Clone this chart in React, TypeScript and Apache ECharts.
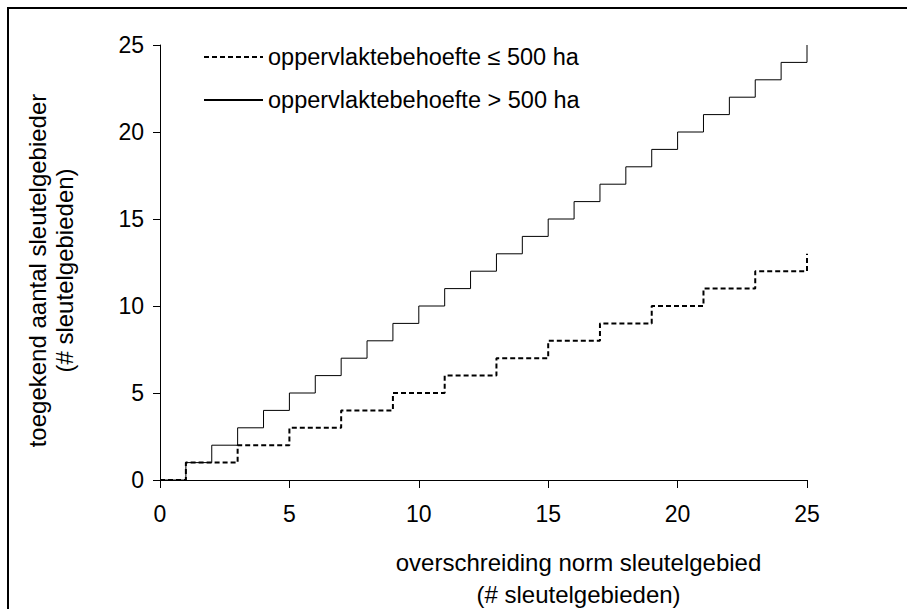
import React, { useEffect, useRef } from "react";
import * as echarts from "echarts";

const xTicks = [0, 5, 10, 15, 20, 25];
const yTicks = [0, 5, 10, 15, 20, 25];

const largeName = "oppervlaktebehoefte > 500 ha";
const largeX = [0, 1, 2, 3, 4, 5, 6, 7, 8, 9, 10, 11, 12, 13, 14, 15, 16, 17, 18, 19, 20, 21, 22, 23, 24, 25];
const largeY = [0, 1, 2, 3, 4, 5, 6, 7, 8, 9, 10, 11, 12, 13, 14, 15, 16, 17, 18, 19, 20, 21, 22, 23, 24, 25];

const smallName = "oppervlaktebehoefte \u2264 500 ha";
const smallX = [0, 1, 3, 5, 7, 9, 11, 13, 15, 17, 19, 21, 23, 25];
const smallY = [0, 1, 2, 3, 4, 5, 6, 7, 8, 9, 10, 11, 12, 13];

const xTitle = "overschreiding norm sleutelgebied\n(# sleutelgebieden)";
const yTitle = "toegekend aantal sleutelgebieder\n(# sleutelgebieden)";

const FONT = "'Liberation Sans', Arial, sans-serif";

export default function App() {
  const ref = useRef<HTMLDivElement>(null);
  useEffect(() => {
    if (!ref.current) return;
    const chart = echarts.init(ref.current, undefined, { renderer: "svg" });
    const pairs = (xs: number[], ys: number[]) => xs.map((x, i) => [x, ys[i]]);
    chart.setOption({
      animation: false,
      backgroundColor: "#fff",
      textStyle: { fontFamily: FONT, color: "#000" },
      grid: { left: 160, right: 100, top: 45, bottom: 129, containLabel: false, outerBoundsMode: "none" },
      legend: {
        left: 203,
        top: 45,
        orient: "vertical",
        padding: 0,
        itemWidth: 59,
        itemHeight: 20,
        itemGap: 19,
        data: [smallName, largeName],
        itemStyle: { opacity: 0 },
        textStyle: { fontSize: 23.5, lineHeight: 23, color: "#000", fontFamily: FONT },
      },
      xAxis: {
        type: "value",
        min: xTicks[0],
        max: xTicks[xTicks.length - 1],
        interval: 5,
        splitLine: { show: false },
        axisLine: { show: true, onZero: false, lineStyle: { color: "#000", width: 1 } },
        axisTick: { show: true, length: 8, lineStyle: { color: "#000" } },
        axisLabel: { fontSize: 23, color: "#000", margin: 22, fontFamily: FONT },
        name: xTitle,
        nameLocation: "middle",
        nameGap: 66,
        nameTextStyle: { fontSize: 24, lineHeight: 32, color: "#000", fontFamily: FONT, padding: [0, 0, 0, 190] },
      },
      yAxis: {
        type: "value",
        min: yTicks[0],
        max: yTicks[yTicks.length - 1],
        interval: 5,
        splitLine: { show: false },
        axisLine: { show: true, lineStyle: { color: "#000", width: 1 } },
        axisTick: { show: true, length: 7, lineStyle: { color: "#000" } },
        axisLabel: { fontSize: 23, color: "#000", margin: 16, fontFamily: FONT },
        name: yTitle,
        nameLocation: "middle",
        nameRotate: 90,
        nameGap: 82,
        nameTextStyle: { fontSize: 24, lineHeight: 27, color: "#000", fontFamily: FONT, padding: [0, 16, 0, 0] },
      },
      series: [
        {
          name: smallName,
          type: "line",
          step: "end",
          symbol: "none",
          data: pairs(smallX, smallY),
          lineStyle: { color: "#000", width: 2, type: [5, 3] },
          itemStyle: { color: "#000" },
          z: 3,
        },
        {
          name: largeName,
          type: "line",
          step: "end",
          symbol: "none",
          data: pairs(largeX, largeY),
          lineStyle: { color: "#000", width: 1, type: "solid" },
          itemStyle: { color: "#000" },
          z: 2,
        },
      ],
      graphic: [
        {
          type: "rect",
          shape: { x: 8, y: 8, width: 1000, height: 1000 },
          style: { fill: "none", stroke: "#000", lineWidth: 2 },
          silent: true,
        },
      ],
    });
    return () => chart.dispose();
  }, []);
  return (
    <div
      ref={ref}
      style={{ position: "absolute", left: 0, top: 0, width: 907, height: 609 }}
    />
  );
}
